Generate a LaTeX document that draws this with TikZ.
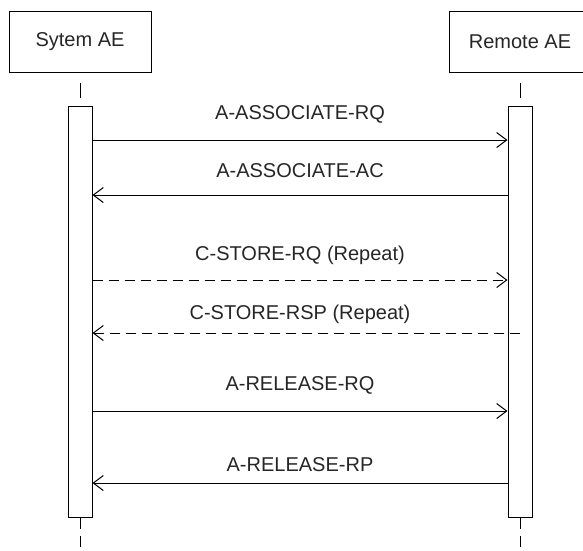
\documentclass[tikz,border=0pt]{standalone}
\usepackage{fontspec}
\setmainfont{Liberation Sans}
\usetikzlibrary{arrows.meta}

\begin{document}
\begin{tikzpicture}[x=1pt, y=-1pt,
  actor/.style={draw=black, line width=1pt, minimum width=142pt, minimum height=61pt, font=\fontsize{20}{23}\selectfont, text=black!85},
  bar/.style={draw=black, line width=1pt, fill=white, minimum width=24pt, minimum height=411pt},
  life/.style={black, line width=1pt},
  msg/.style={black, line width=1pt, -{Straight Barb[length=10pt, width=15pt]}},
  back/.style={msg, dash pattern=on 10pt off 6pt},
  lbl/.style={font=\fontsize{20}{23}\selectfont, text=black!85}]
\useasboundingbox (0,0) rectangle (583,550);
% lifelines
\node[actor] (sys) at (80,41.5) {Sytem AE};
\node[actor] (rem) at (520,41.5) {Remote AE};
\node[bar] (sysbar) at (80,311.5) {};
\node[bar] (rembar) at (520,311.5) {};
\coordinate (sysend) at (80,550);
\coordinate (remend) at (520,550);
\draw[life, dash pattern=on 0pt off 10pt on 15pt off 10pt] (sys.south) -- (sysbar.north);
\draw[life, dash pattern=on 0pt off 10pt on 15pt off 10pt] (rem.south) -- (rembar.north);
\draw[life, dash pattern=on 11pt off 7pt] (sysbar.south) -- (sysend);
\draw[life, dash pattern=on 11pt off 7pt] (rembar.south) -- (remend);
% messages
\draw[msg] (sysbar.east |- 0,140) -- (rembar.west |- 0,140);
\node[lbl] (assocrq) at (300,114) {A-ASSOCIATE-RQ};
\draw[msg] (rembar.west |- 0,195) -- (sysbar.east |- 0,195);
\node[lbl] (assocac) at (300,171) {A-ASSOCIATE-AC};
\draw[back] (sysbar.east |- 0,280) -- (rembar.west |- 0,280);
\node[lbl] (storerq) at (300,255) {C-STORE-RQ (Repeat)};
\draw[back] (rembar.center |- 0,333) -- (sysbar.east |- 0,333);
\node[lbl] (storersp) at (300,314) {C-STORE-RSP (Repeat)};
\draw[msg] (sysbar.east |- 0,411) -- (rembar.west |- 0,411);
\node[lbl] (relrq) at (300,385) {A-RELEASE-RQ};
\draw[msg] (rembar.west |- 0,483) -- (sysbar.east |- 0,483);
\node[lbl] (relrp) at (300,465) {A-RELEASE-RP};
\end{tikzpicture}
\end{document}
